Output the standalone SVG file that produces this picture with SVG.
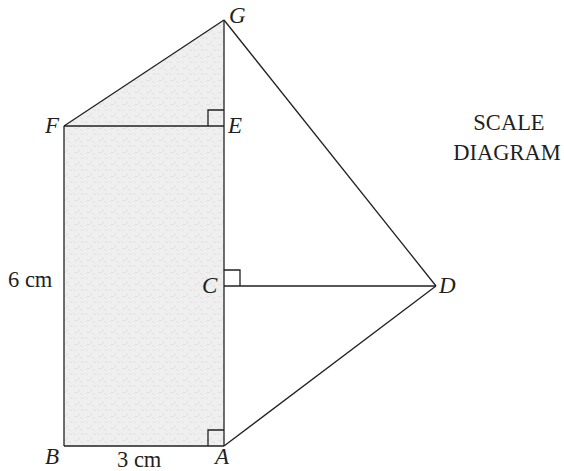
<svg xmlns="http://www.w3.org/2000/svg" width="564" height="471" viewBox="0 0 564 471">
<style>
.ln{stroke:#231f20;stroke-width:1.3;fill:none;stroke-linejoin:miter}
.lbl{font-family:"Liberation Serif",serif;font-style:italic;font-size:23px;fill:#231f20}
.txt{font-family:"Liberation Serif",serif;font-size:22.5px;fill:#231f20}
</style>
<defs>
<pattern id="tex" width="12" height="12" patternUnits="userSpaceOnUse">
<rect width="12" height="12" fill="#efefef"/>
<path d="M1,2 q2,-1 3,1 M6,5 q2,1 1,3 M9,1 q1,2 3,1 M2,8 q2,2 4,0 M8,10 q2,-1 3,1" stroke="#dcdcdc" stroke-width="0.8" fill="none"/>
</pattern>
</defs>
<g id="shading">
<polygon points="64,446 64,126 224,20 224,446" fill="url(#tex)"/>
</g>
<g id="connectors">
<line class="ln" x1="64" y1="126" x2="224" y2="20"/>
<line class="ln" x1="64" y1="126" x2="224" y2="126"/>
<line class="ln" x1="64" y1="126" x2="64" y2="446"/>
<line class="ln" x1="64" y1="446" x2="224" y2="446"/>
<line class="ln" x1="224" y1="20" x2="224" y2="446"/>
<line class="ln" x1="224" y1="20" x2="436" y2="286"/>
<line class="ln" x1="224" y1="286" x2="436" y2="286"/>
<line class="ln" x1="436" y1="286" x2="224" y2="446"/>
<path class="ln" d="M208,126 V110 H224"/>
<path class="ln" d="M224,270 H240 V286"/>
<path class="ln" d="M208,446 V430 H224"/>
</g>
<g id="node-G"><text class="lbl" x="229" y="23">G</text></g>
<g id="node-F"><text class="lbl" x="45" y="133">F</text></g>
<g id="node-E"><text class="lbl" x="228" y="133">E</text></g>
<g id="node-C"><text class="lbl" x="202" y="293">C</text></g>
<g id="node-D"><text class="lbl" x="439" y="293">D</text></g>
<g id="node-B"><text class="lbl" x="45" y="464">B</text></g>
<g id="node-A"><text class="lbl" x="215" y="464">A</text></g>
<g id="label-6cm"><text class="txt" x="8" y="287">6 cm</text></g>
<g id="label-3cm"><text class="txt" x="117" y="467">3 cm</text></g>
<g id="title"><text class="txt" text-anchor="middle" x="509" y="130">SCALE</text><text class="txt" text-anchor="middle" x="507" y="160">DIAGRAM</text></g>
</svg>
